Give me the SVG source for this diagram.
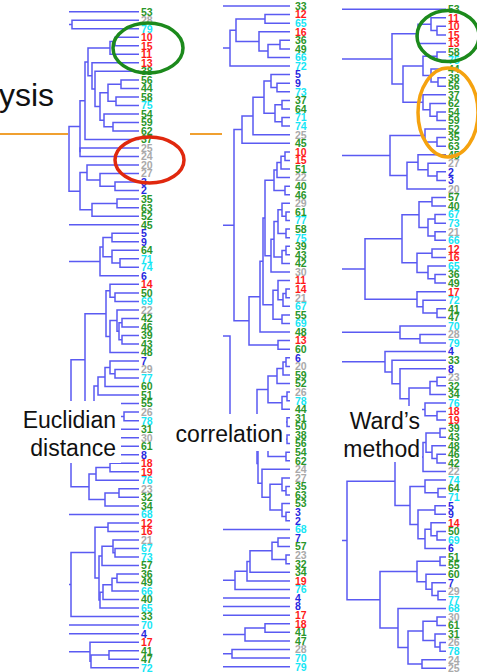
<svg xmlns="http://www.w3.org/2000/svg" width="477" height="672" viewBox="0 0 477 672">
<style>
.t{fill:none;stroke:#5a5af2;stroke-width:1.5}
.lb{font-family:"Liberation Sans",Arial,sans-serif;font-size:10.5px;font-weight:bold}
.r{fill:#ff1a1a}.g{fill:#2a962a}.c{fill:#18e6f5}.gy{fill:#aaaaaa}.b{fill:#2828e0}
.big{font-family:"Liberation Sans",Arial,sans-serif;font-size:23px;fill:#111}
.box{fill:#ffffff}
.el{fill:none;stroke-width:3.5}
</style>
<rect width="477" height="672" fill="#ffffff"/>
<text x="-1" y="106" style="font-family:'Liberation Sans',Arial,sans-serif;font-size:32px;fill:#111">ysis</text>
<path d="M0,134 H68 M190,134 H222" stroke="#f0a030" stroke-width="2" fill="none"/>
<g id="connectors">
<g id="tree-euclidian" class="t">
<path d="M69,11.7 H139"/>
<path d="M139,20.2 H72 V28.7 H139 M72,24.45 H69"/>
<path d="M139,37.3 H115 V45.8 H139"/>
<path d="M115,41.55 H110 V54.3 H139"/>
<path d="M139,79.9 H121 V88.4 H139"/>
<path d="M139,96.9 H116 V105.4 H139"/>
<path d="M121,84.15 H108 V101.15 H116"/>
<path d="M139,122.5 H113 V131 H139"/>
<path d="M139,113.9 H104 V126.75 H113"/>
<path d="M108,92.65 H100 V120.3 H104"/>
<path d="M139,71.3 H95 V106.5 H100"/>
<path d="M139,62.8 H92 V88.9 H95"/>
<path d="M110,47.9 H88 V75.85 H92"/>
<path d="M88,61.9 H85 V139.5 H139"/>
<path d="M139,148 H80 V156.5 H139"/>
<path d="M85,100.7 H80 V152.25"/>
<path d="M139,182.1 H115 V190.6 H139"/>
<path d="M139,173.6 H100 V186.35 H115"/>
<path d="M139,165.1 H87 V179.98 H100"/>
<path d="M139,199.1 H117 V207.7 H139"/>
<path d="M117,203.4 H92 V216.2 H139"/>
<path d="M87,172.54 H80 V209.8 H92"/>
<path d="M80,126.5 H69 V191.17 H80"/>
<path d="M69,224.7 H139"/>
<path d="M139,233.2 H112 V241.7 H139"/>
<path d="M139,258.8 H120 V267.3 H139"/>
<path d="M139,250.3 H112 V263.05 H120"/>
<path d="M112,237.45 H103 V256.68 H112"/>
<path d="M103,247.06 H100 V275.8 H139 M100,261.43 H69"/>
<path d="M139,292.9 H115 V301.4 H139"/>
<path d="M139,284.3 H110 V297.15 H115"/>
<path d="M139,318.4 H122 V326.9 H139"/>
<path d="M139,335.5 H122 V344 H139"/>
<path d="M122,322.65 H119 V339.75 H122"/>
<path d="M139,309.9 H117 V331.2 H119"/>
<path d="M117,320.55 H110 V352.5 H139"/>
<path d="M110,290.73 H106 V336.53 H110"/>
<path d="M139,369.5 H115 V378.1 H139"/>
<path d="M139,361 H110 V373.8 H115"/>
<path d="M110,367.4 H105 V386.6 H139"/>
<path d="M105,377 H98 V395.1 H139"/>
<path d="M139,412.1 H124 V420.7 H139"/>
<path d="M139,403.6 H115 V416.4 H124"/>
<path d="M139,429.2 H118 V437.7 H139"/>
<path d="M139,446.2 H118 V454.7 H139"/>
<path d="M118,433.45 H112 V450.45 H118"/>
<path d="M115,410 H105 V441.95 H112"/>
<path d="M98,386.05 H94 V425.98 H105"/>
<path d="M106,313.63 H85 V406 H94"/>
<path d="M139,463.3 H110 V471.8 H139"/>
<path d="M110,467.55 H96 V480.3 H139"/>
<path d="M139,488.8 H119 V497.3 H139"/>
<path d="M119,493.05 H105 V505.9 H139"/>
<path d="M96,473.93 H89 V499.48 H105"/>
<path d="M85,359.8 H71 V486.7 H89 M71,423.25 H69"/>
<path d="M69,514.4 H139"/>
<path d="M139,522.9 H108 V531.4 H139"/>
<path d="M139,548.5 H115 V557 H139"/>
<path d="M139,539.9 H113 V552.75 H115"/>
<path d="M113,546.33 H102 V565.5 H139"/>
<path d="M139,574 H117 V582.5 H139"/>
<path d="M117,578.25 H112 V591.1 H139"/>
<path d="M112,584.68 H103 V599.6 H139"/>
<path d="M103,592.14 H100 V608.1 H139"/>
<path d="M102,555.9 H99 V600.12 H100"/>
<path d="M108,527.15 H95 V578 H99"/>
<path d="M95,552.58 H71 V616.6 H139 M71,584.6 H69"/>
<path d="M69,625.1 H139 M69,633.7 H139"/>
<path d="M139,650.7 H109 V659.2 H139"/>
<path d="M109,654.95 H91 V667.7 H139"/>
<path d="M139,642.2 H90 V661.33 H91 M90,651.77 H69"/>
</g>
<g id="tree-correlation" class="t">
<path d="M223,6 H290"/>
<path d="M290,14.6 H265 V23.2 H290"/>
<path d="M290,40.3 H280 V48.9 H290"/>
<path d="M280,44.6 H268 V57.5 H290"/>
<path d="M290,31.7 H259 V51.05 H268"/>
<path d="M265,18.9 H236 V41.38 H259"/>
<path d="M236,30.14 H230 V66.1 H290 M230,48.12 H223"/>
<path d="M290,83.2 H277 V91.8 H290"/>
<path d="M290,74.6 H271 V87.5 H277"/>
<path d="M290,100.4 H282 V109 H290"/>
<path d="M290,117.5 H282 V126.1 H290"/>
<path d="M282,104.7 H275 V121.8 H282"/>
<path d="M271,81.05 H264 V113.25 H275"/>
<path d="M264,97.15 H253 V134.7 H290"/>
<path d="M253,115.93 H242 V143.3 H290"/>
<path d="M290,151.9 H285 V160.4 H290"/>
<path d="M285,156.15 H281 V169 H290"/>
<path d="M281,162.58 H277 V177.6 H290"/>
<path d="M290,186.2 H285 V194.8 H290"/>
<path d="M277,170.09 H274 V190.5 H285"/>
<path d="M290,211.9 H286 V220.5 H290"/>
<path d="M290,203.3 H282 V216.2 H286"/>
<path d="M290,229.1 H286 V237.7 H290"/>
<path d="M282,209.75 H278 V233.4 H286"/>
<path d="M290,246.2 H286 V254.8 H290"/>
<path d="M286,250.5 H282 V263.4 H290"/>
<path d="M278,221.58 H274 V256.95 H282"/>
<path d="M274,239.27 H271 V272 H290"/>
<path d="M274,180.3 H265 V255.63 H271"/>
<path d="M290,289.1 H286 V297.7 H290"/>
<path d="M286,293.4 H283 V306.3 H290"/>
<path d="M290,280.6 H278 V299.85 H283"/>
<path d="M290,314.9 H282 V323.5 H290"/>
<path d="M278,290.23 H273 V319.2 H282"/>
<path d="M265,217.97 H263 V304.71 H273"/>
<path d="M263,261.34 H260 V332 H290"/>
<path d="M290,340.6 H278 V349.2 H290"/>
<path d="M260,296.67 H249 V344.9 H278"/>
<path d="M242,129.61 H234 V320.78 H249 M234,225.2 H223"/>
<path d="M290,357.8 H286 V366.4 H290"/>
<path d="M286,362.1 H283 V374.9 H290"/>
<path d="M283,368.5 H277 V383.5 H290"/>
<path d="M290,392.1 H287 V400.7 H290"/>
<path d="M287,396.4 H282 V409.3 H290"/>
<path d="M277,376 H268 V402.85 H282"/>
<path d="M290,417.8 H287 V426.4 H290"/>
<path d="M290,435 H287 V443.6 H290"/>
<path d="M287,422.1 H280 V439.3 H287"/>
<path d="M290,452.2 H286 V460.7 H290"/>
<path d="M280,430.7 H268 V456.45 H286"/>
<path d="M290,486.5 H286 V495.1 H290"/>
<path d="M290,477.9 H282 V490.8 H286"/>
<path d="M290,512.2 H286 V520.8 H290"/>
<path d="M290,503.6 H282 V516.5 H286"/>
<path d="M282,484.35 H270 V510.05 H282"/>
<path d="M290,469.3 H262 V497.2 H270"/>
<path d="M268,443.58 H258 V483.25 H262"/>
<path d="M268,389.43 H257 V463.42 H258"/>
<path d="M223,336 H230 V426.4 H257"/>
<path d="M223,529.4 H290"/>
<path d="M290,538 H278 V546.5 H290"/>
<path d="M290,555.1 H286 V563.7 H290"/>
<path d="M278,542.25 H272 V559.4 H286"/>
<path d="M272,550.83 H250 V572.3 H290"/>
<path d="M250,561.56 H247 V580.9 H290"/>
<path d="M247,571.23 H235 V589.4 H290 M235,580.32 H223"/>
<path d="M223,598 H290 M223,606.6 H290 M223,615.2 H290"/>
<path d="M290,623.8 H265 V632.3 H290"/>
<path d="M265,628.05 H245 V640.9 H290 M245,634.48 H223"/>
<path d="M290,649.5 H232 V658.1 H290 M232,653.8 H223"/>
<path d="M223,666.7 H290"/>
</g>
<g id="tree-ward" class="t">
<path d="M342,9.2 H446"/>
<path d="M446,26.3 H437 V34.9 H446"/>
<path d="M446,17.8 H431 V30.6 H437"/>
<path d="M431,24.2 H418 V43.4 H446"/>
<path d="M446,52 H437 V60.6 H446"/>
<path d="M446,77.7 H438 V86.2 H446"/>
<path d="M446,69.1 H431 V81.95 H438"/>
<path d="M437,56.3 H423 V75.53 H431"/>
<path d="M446,111.9 H437 V120.5 H446"/>
<path d="M446,103.4 H430 V116.2 H437"/>
<path d="M446,94.8 H423 V109.8 H430"/>
<path d="M423,65.91 H403 V102.3 H423"/>
<path d="M418,33.8 H392 V84.1 H403 M392,58.95 H342"/>
<path d="M446,137.6 H437 V146.2 H446"/>
<path d="M446,129 H425 V141.9 H437"/>
<path d="M446,171.8 H437 V180.4 H446"/>
<path d="M446,163.3 H428 V176.1 H437"/>
<path d="M446,154.7 H418 V169.7 H428"/>
<path d="M418,162.2 H407 V189 H446"/>
<path d="M425,135.45 H390 V175.6 H407 M390,155.53 H342"/>
<path d="M446,197.5 H432 V206.1 H446"/>
<path d="M446,214.6 H435 V223.2 H446"/>
<path d="M446,231.8 H435 V240.3 H446"/>
<path d="M435,218.9 H428 V236.05 H435"/>
<path d="M432,201.8 H419 V227.48 H428"/>
<path d="M446,248.9 H432 V257.4 H446"/>
<path d="M446,274.6 H435 V283.1 H446"/>
<path d="M446,266 H428 V278.85 H435"/>
<path d="M432,253.15 H417 V272.43 H428"/>
<path d="M419,214.64 H402 V262.79 H417"/>
<path d="M446,308.8 H437 V317.4 H446"/>
<path d="M446,300.2 H423 V313.1 H437"/>
<path d="M446,291.7 H417 V306.65 H423"/>
<path d="M402,238.72 H365 V299.18 H417 M365,268.95 H342"/>
<path d="M446,334.5 H420 V343 H446"/>
<path d="M446,325.9 H400 V338.75 H420 M400,332.33 H342"/>
<path d="M446,377.3 H437 V385.8 H446"/>
<path d="M437,381.55 H430 V394.4 H446"/>
<path d="M446,411.5 H437 V420.1 H446"/>
<path d="M446,403 H425 V415.8 H437"/>
<path d="M430,387.98 H409 V409.4 H425"/>
<path d="M446,368.7 H400 V398.69 H409"/>
<path d="M446,360.2 H392 V383.7 H400"/>
<path d="M446,351.6 H385 V371.95 H392 M385,361.78 H342"/>
<path d="M446,428.6 H440 V437.2 H446"/>
<path d="M446,454.3 H437 V462.9 H446"/>
<path d="M446,445.8 H432 V458.6 H437"/>
<path d="M440,432.9 H426 V452.2 H432"/>
<path d="M426,442.55 H423 V471.4 H446"/>
<path d="M446,488.6 H438 V497.1 H446"/>
<path d="M446,480 H425 V492.85 H438"/>
<path d="M446,505.7 H435 V514.2 H446"/>
<path d="M446,531.4 H437 V539.9 H446"/>
<path d="M446,522.8 H431 V535.65 H437"/>
<path d="M431,529.23 H425 V548.5 H446"/>
<path d="M435,509.95 H418 V538.86 H425"/>
<path d="M425,486.43 H410 V524.41 H418"/>
<path d="M423,456.98 H395 V505.42 H410"/>
<path d="M446,557 H440 V565.6 H446"/>
<path d="M446,591.3 H438 V599.8 H446"/>
<path d="M446,582.7 H432 V595.55 H438"/>
<path d="M446,574.2 H426 V589.13 H432"/>
<path d="M440,561.3 H417 V581.66 H426"/>
<path d="M446,617 H437 V625.5 H446"/>
<path d="M446,642.6 H440 V651.2 H446"/>
<path d="M446,634.1 H435 V646.9 H440"/>
<path d="M437,621.25 H423 V640.5 H435"/>
<path d="M446,659.8 H422 V668.3 H446"/>
<path d="M423,630.88 H408 V664.05 H422"/>
<path d="M446,608.4 H398 V647.47 H408"/>
<path d="M417,571.48 H380 V627.93 H398"/>
<path d="M395,481.2 H347 V599.7 H380 M347,540.45 H342"/>
</g>
</g>
<g id="label-euclidian">
<rect class="box" x="15" y="401" width="106" height="62"/>
<text class="big" x="116" y="428" text-anchor="end">Euclidian</text>
<text class="big" x="116" y="456" text-anchor="end">distance</text>
</g>
<g id="label-correlation">
<rect class="box" x="171" y="414" width="115" height="37"/>
<text class="big" x="283" y="442" text-anchor="end">correlation</text>
</g>
<g id="label-ward">
<rect class="box" x="340" y="406" width="82" height="56"/>
<text class="big" x="420" y="429" text-anchor="end">Ward’s</text>
<text class="big" x="420" y="457" text-anchor="end">method</text>
</g>
<g id="leaves-euclidian" class="lb">
<text id="e53" class="g" x="141" y="15.5">53</text>
<text id="e28" class="gy" x="141" y="24.0">28</text>
<text id="e79" class="c" x="141" y="32.5">79</text>
<text id="e10" class="r" x="141" y="41.1">10</text>
<text id="e15" class="r" x="141" y="49.6">15</text>
<text id="e11" class="r" x="141" y="58.1">11</text>
<text id="e13" class="r" x="141" y="66.6">13</text>
<text id="e38" class="g" x="141" y="75.1">38</text>
<text id="e56" class="g" x="141" y="83.7">56</text>
<text id="e44" class="g" x="141" y="92.2">44</text>
<text id="e58" class="g" x="141" y="100.7">58</text>
<text id="e75" class="c" x="141" y="109.2">75</text>
<text id="e54" class="g" x="141" y="117.7">54</text>
<text id="e59" class="g" x="141" y="126.3">59</text>
<text id="e62" class="g" x="141" y="134.8">62</text>
<text id="e37" class="g" x="141" y="143.3">37</text>
<text id="e25" class="gy" x="141" y="151.8">25</text>
<text id="e24" class="gy" x="141" y="160.3">24</text>
<text id="e20" class="gy" x="141" y="168.9">20</text>
<text id="e27" class="gy" x="141" y="177.4">27</text>
<text id="e3" class="b" x="141" y="185.9">3</text>
<text id="e2" class="b" x="141" y="194.4">2</text>
<text id="e35" class="g" x="141" y="202.9">35</text>
<text id="e63" class="g" x="141" y="211.5">63</text>
<text id="e52" class="g" x="141" y="220.0">52</text>
<text id="e45" class="g" x="141" y="228.5">45</text>
<text id="e5" class="b" x="141" y="237.0">5</text>
<text id="e9" class="b" x="141" y="245.5">9</text>
<text id="e64" class="g" x="141" y="254.1">64</text>
<text id="e71" class="c" x="141" y="262.6">71</text>
<text id="e74" class="c" x="141" y="271.1">74</text>
<text id="e6" class="b" x="141" y="279.6">6</text>
<text id="e14" class="r" x="141" y="288.1">14</text>
<text id="e50" class="g" x="141" y="296.7">50</text>
<text id="e69" class="c" x="141" y="305.2">69</text>
<text id="e22" class="gy" x="141" y="313.7">22</text>
<text id="e42" class="g" x="141" y="322.2">42</text>
<text id="e46" class="g" x="141" y="330.7">46</text>
<text id="e39" class="g" x="141" y="339.3">39</text>
<text id="e43" class="g" x="141" y="347.8">43</text>
<text id="e48" class="g" x="141" y="356.3">48</text>
<text id="e7" class="b" x="141" y="364.8">7</text>
<text id="e29" class="gy" x="141" y="373.3">29</text>
<text id="e77" class="c" x="141" y="381.9">77</text>
<text id="e60" class="g" x="141" y="390.4">60</text>
<text id="e51" class="g" x="141" y="398.9">51</text>
<text id="e55" class="g" x="141" y="407.4">55</text>
<text id="e26" class="gy" x="141" y="415.9">26</text>
<text id="e78" class="c" x="141" y="424.5">78</text>
<text id="e31" class="g" x="141" y="433.0">31</text>
<text id="e30" class="gy" x="141" y="441.5">30</text>
<text id="e61" class="g" x="141" y="450.0">61</text>
<text id="e8" class="b" x="141" y="458.5">8</text>
<text id="e18" class="r" x="141" y="467.1">18</text>
<text id="e19" class="r" x="141" y="475.6">19</text>
<text id="e76" class="c" x="141" y="484.1">76</text>
<text id="e23" class="gy" x="141" y="492.6">23</text>
<text id="e32" class="g" x="141" y="501.1">32</text>
<text id="e34" class="g" x="141" y="509.7">34</text>
<text id="e68" class="c" x="141" y="518.2">68</text>
<text id="e12" class="r" x="141" y="526.7">12</text>
<text id="e16" class="r" x="141" y="535.2">16</text>
<text id="e21" class="gy" x="141" y="543.7">21</text>
<text id="e67" class="c" x="141" y="552.3">67</text>
<text id="e73" class="c" x="141" y="560.8">73</text>
<text id="e57" class="g" x="141" y="569.3">57</text>
<text id="e36" class="g" x="141" y="577.8">36</text>
<text id="e49" class="g" x="141" y="586.3">49</text>
<text id="e66" class="c" x="141" y="594.9">66</text>
<text id="e40" class="g" x="141" y="603.4">40</text>
<text id="e65" class="c" x="141" y="611.9">65</text>
<text id="e33" class="g" x="141" y="620.4">33</text>
<text id="e70" class="c" x="141" y="628.9">70</text>
<text id="e4" class="b" x="141" y="637.5">4</text>
<text id="e17" class="r" x="141" y="646.0">17</text>
<text id="e41" class="g" x="141" y="654.5">41</text>
<text id="e47" class="g" x="141" y="663.0">47</text>
<text id="e72" class="c" x="141" y="671.5">72</text>
</g>
<g id="leaves-correlation" class="lb">
<text id="k33" class="g" x="295" y="9.8">33</text>
<text id="k12" class="r" x="295" y="18.4">12</text>
<text id="k65" class="c" x="295" y="27.0">65</text>
<text id="k16" class="r" x="295" y="35.5">16</text>
<text id="k36" class="g" x="295" y="44.1">36</text>
<text id="k49" class="g" x="295" y="52.7">49</text>
<text id="k66" class="c" x="295" y="61.3">66</text>
<text id="k72" class="c" x="295" y="69.9">72</text>
<text id="k5" class="b" x="295" y="78.4">5</text>
<text id="k9" class="b" x="295" y="87.0">9</text>
<text id="k73" class="c" x="295" y="95.6">73</text>
<text id="k37" class="g" x="295" y="104.2">37</text>
<text id="k64" class="g" x="295" y="112.8">64</text>
<text id="k71" class="c" x="295" y="121.3">71</text>
<text id="k74" class="c" x="295" y="129.9">74</text>
<text id="k25" class="gy" x="295" y="138.5">25</text>
<text id="k45" class="g" x="295" y="147.1">45</text>
<text id="k10" class="r" x="295" y="155.7">10</text>
<text id="k15" class="r" x="295" y="164.2">15</text>
<text id="k51" class="g" x="295" y="172.8">51</text>
<text id="k22" class="gy" x="295" y="181.4">22</text>
<text id="k40" class="g" x="295" y="190.0">40</text>
<text id="k46" class="g" x="295" y="198.6">46</text>
<text id="k29" class="gy" x="295" y="207.1">29</text>
<text id="k61" class="g" x="295" y="215.7">61</text>
<text id="k77" class="c" x="295" y="224.3">77</text>
<text id="k58" class="g" x="295" y="232.9">58</text>
<text id="k75" class="c" x="295" y="241.5">75</text>
<text id="k39" class="g" x="295" y="250.0">39</text>
<text id="k43" class="g" x="295" y="258.6">43</text>
<text id="k42" class="g" x="295" y="267.2">42</text>
<text id="k30" class="gy" x="295" y="275.8">30</text>
<text id="k11" class="r" x="295" y="284.4">11</text>
<text id="k14" class="r" x="295" y="292.9">14</text>
<text id="k21" class="gy" x="295" y="301.5">21</text>
<text id="k67" class="c" x="295" y="310.1">67</text>
<text id="k55" class="g" x="295" y="318.7">55</text>
<text id="k69" class="c" x="295" y="327.3">69</text>
<text id="k48" class="g" x="295" y="335.8">48</text>
<text id="k13" class="r" x="295" y="344.4">13</text>
<text id="k60" class="g" x="295" y="353.0">60</text>
<text id="k6" class="b" x="295" y="361.6">6</text>
<text id="k20" class="gy" x="295" y="370.2">20</text>
<text id="k59" class="g" x="295" y="378.7">59</text>
<text id="k52" class="g" x="295" y="387.3">52</text>
<text id="k26" class="gy" x="295" y="395.9">26</text>
<text id="k78" class="c" x="295" y="404.5">78</text>
<text id="k44" class="g" x="295" y="413.1">44</text>
<text id="k31" class="g" x="295" y="421.6">31</text>
<text id="k50" class="g" x="295" y="430.2">50</text>
<text id="k38" class="g" x="295" y="438.8">38</text>
<text id="k56" class="g" x="295" y="447.4">56</text>
<text id="k54" class="g" x="295" y="456.0">54</text>
<text id="k62" class="g" x="295" y="464.5">62</text>
<text id="k24" class="gy" x="295" y="473.1">24</text>
<text id="k27" class="gy" x="295" y="481.7">27</text>
<text id="k35" class="g" x="295" y="490.3">35</text>
<text id="k63" class="g" x="295" y="498.9">63</text>
<text id="k53" class="g" x="295" y="507.4">53</text>
<text id="k3" class="b" x="295" y="516.0">3</text>
<text id="k2" class="b" x="295" y="524.6">2</text>
<text id="k68" class="c" x="295" y="533.2">68</text>
<text id="k7" class="b" x="295" y="541.8">7</text>
<text id="k57" class="g" x="295" y="550.3">57</text>
<text id="k23" class="gy" x="295" y="558.9">23</text>
<text id="k32" class="g" x="295" y="567.5">32</text>
<text id="k34" class="g" x="295" y="576.1">34</text>
<text id="k19" class="r" x="295" y="584.7">19</text>
<text id="k76" class="c" x="295" y="593.2">76</text>
<text id="k4" class="b" x="295" y="601.8">4</text>
<text id="k8" class="b" x="295" y="610.4">8</text>
<text id="k17" class="r" x="295" y="619.0">17</text>
<text id="k18" class="r" x="295" y="627.6">18</text>
<text id="k41" class="g" x="295" y="636.1">41</text>
<text id="k47" class="g" x="295" y="644.7">47</text>
<text id="k28" class="gy" x="295" y="653.3">28</text>
<text id="k70" class="c" x="295" y="661.9">70</text>
<text id="k79" class="c" x="295" y="670.5">79</text>
</g>
<g id="leaves-ward" class="lb">
<text id="w53" class="g" x="448" y="13.0">53</text>
<text id="w11" class="r" x="448" y="21.6">11</text>
<text id="w10" class="r" x="448" y="30.1">10</text>
<text id="w15" class="r" x="448" y="38.7">15</text>
<text id="w13" class="r" x="448" y="47.2">13</text>
<text id="w58" class="g" x="448" y="55.8">58</text>
<text id="w75" class="c" x="448" y="64.4">75</text>
<text id="w44" class="g" x="448" y="72.9">44</text>
<text id="w38" class="g" x="448" y="81.5">38</text>
<text id="w56" class="g" x="448" y="90.0">56</text>
<text id="w37" class="g" x="448" y="98.6">37</text>
<text id="w62" class="g" x="448" y="107.2">62</text>
<text id="w54" class="g" x="448" y="115.7">54</text>
<text id="w59" class="g" x="448" y="124.3">59</text>
<text id="w52" class="g" x="448" y="132.8">52</text>
<text id="w35" class="g" x="448" y="141.4">35</text>
<text id="w63" class="g" x="448" y="150.0">63</text>
<text id="w45" class="g" x="448" y="158.5">45</text>
<text id="w27" class="gy" x="448" y="167.1">27</text>
<text id="w2" class="b" x="448" y="175.6">2</text>
<text id="w3" class="b" x="448" y="184.2">3</text>
<text id="w20" class="gy" x="448" y="192.8">20</text>
<text id="w57" class="g" x="448" y="201.3">57</text>
<text id="w40" class="g" x="448" y="209.9">40</text>
<text id="w67" class="c" x="448" y="218.4">67</text>
<text id="w73" class="c" x="448" y="227.0">73</text>
<text id="w21" class="gy" x="448" y="235.6">21</text>
<text id="w66" class="c" x="448" y="244.1">66</text>
<text id="w12" class="r" x="448" y="252.7">12</text>
<text id="w16" class="r" x="448" y="261.2">16</text>
<text id="w65" class="c" x="448" y="269.8">65</text>
<text id="w36" class="g" x="448" y="278.4">36</text>
<text id="w49" class="g" x="448" y="286.9">49</text>
<text id="w17" class="r" x="448" y="295.5">17</text>
<text id="w72" class="c" x="448" y="304.0">72</text>
<text id="w41" class="g" x="448" y="312.6">41</text>
<text id="w47" class="g" x="448" y="321.2">47</text>
<text id="w70" class="c" x="448" y="329.7">70</text>
<text id="w28" class="gy" x="448" y="338.3">28</text>
<text id="w79" class="c" x="448" y="346.8">79</text>
<text id="w4" class="b" x="448" y="355.4">4</text>
<text id="w33" class="g" x="448" y="364.0">33</text>
<text id="w8" class="b" x="448" y="372.5">8</text>
<text id="w23" class="gy" x="448" y="381.1">23</text>
<text id="w32" class="g" x="448" y="389.6">32</text>
<text id="w34" class="g" x="448" y="398.2">34</text>
<text id="w76" class="c" x="448" y="406.8">76</text>
<text id="w18" class="r" x="448" y="415.3">18</text>
<text id="w19" class="r" x="448" y="423.9">19</text>
<text id="w39" class="g" x="448" y="432.4">39</text>
<text id="w43" class="g" x="448" y="441.0">43</text>
<text id="w48" class="g" x="448" y="449.6">48</text>
<text id="w46" class="g" x="448" y="458.1">46</text>
<text id="w42" class="g" x="448" y="466.7">42</text>
<text id="w22" class="gy" x="448" y="475.2">22</text>
<text id="w74" class="c" x="448" y="483.8">74</text>
<text id="w64" class="g" x="448" y="492.4">64</text>
<text id="w71" class="c" x="448" y="500.9">71</text>
<text id="w5" class="b" x="448" y="509.5">5</text>
<text id="w9" class="b" x="448" y="518.0">9</text>
<text id="w14" class="r" x="448" y="526.6">14</text>
<text id="w50" class="g" x="448" y="535.2">50</text>
<text id="w69" class="c" x="448" y="543.7">69</text>
<text id="w6" class="b" x="448" y="552.3">6</text>
<text id="w51" class="g" x="448" y="560.8">51</text>
<text id="w55" class="g" x="448" y="569.4">55</text>
<text id="w60" class="g" x="448" y="578.0">60</text>
<text id="w7" class="b" x="448" y="586.5">7</text>
<text id="w29" class="gy" x="448" y="595.1">29</text>
<text id="w77" class="c" x="448" y="603.6">77</text>
<text id="w68" class="c" x="448" y="612.2">68</text>
<text id="w30" class="gy" x="448" y="620.8">30</text>
<text id="w61" class="g" x="448" y="629.3">61</text>
<text id="w31" class="g" x="448" y="637.9">31</text>
<text id="w26" class="gy" x="448" y="646.4">26</text>
<text id="w78" class="c" x="448" y="655.0">78</text>
<text id="w24" class="gy" x="448" y="663.6">24</text>
<text id="w25" class="gy" x="448" y="672.1">25</text>
</g>
<g id="highlights">
<ellipse id="green-euclidian" class="el" cx="148" cy="48" rx="35" ry="25" stroke="#1c8a1c"/>
<ellipse id="red-euclidian" class="el" cx="149.5" cy="160" rx="34.5" ry="23" stroke="#e0280e"/>
<ellipse id="green-ward" class="el" cx="448" cy="36" rx="31" ry="25.5" stroke="#1c8a1c"/>
<ellipse id="orange-ward" class="el" cx="448" cy="112.5" rx="30" ry="44.5" stroke="#f5a20f"/>
</g>
</svg>
